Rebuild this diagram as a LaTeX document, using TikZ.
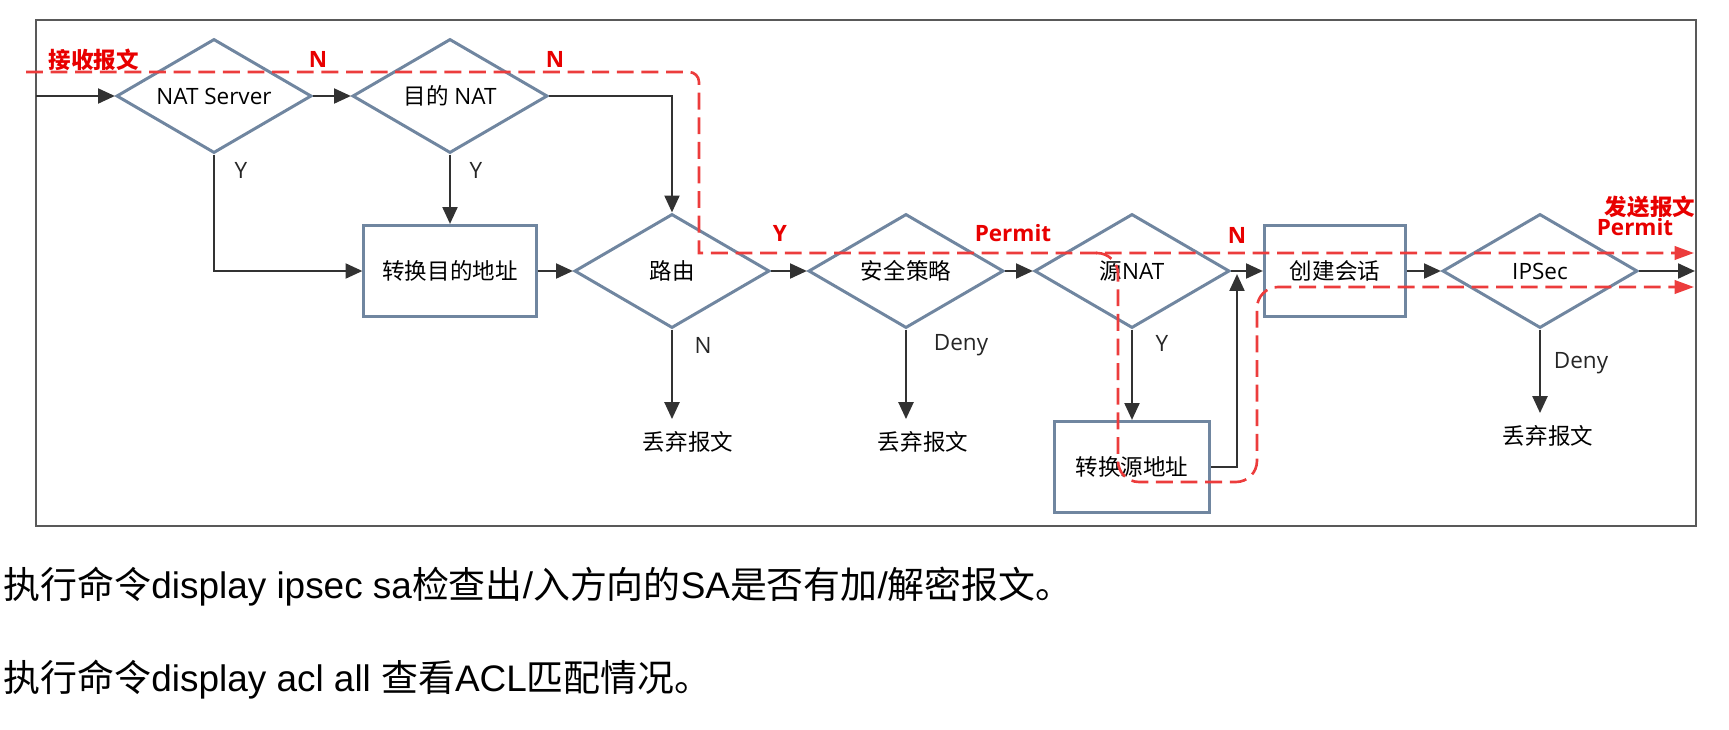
\documentclass[tikz,border=0pt]{standalone}
\usepackage{fontspec}
\setmainfont{Liberation Sans}
\newfontfamily\cjk{Noto Sans CJK SC}
\newfontfamily\uisans{Open Sans}
\usepackage{xcolor}
\usepackage{tikz}
\usetikzlibrary{arrows.meta,positioning,shapes.geometric,calc}

\definecolor{shapeline}{RGB}{112,134,160}
\definecolor{dashred}{RGB}{236,60,60}
\definecolor{tagred}{RGB}{232,0,0}
\definecolor{flowline}{RGB}{50,50,50}

\begin{document}
\begin{tikzpicture}[
        x=0.01cm, y=-0.01cm,
        font=\uisans\fontsize{6.4}{7.5}\selectfont,
        % 判断框与处理框
        decision/.style={draw=shapeline, line width=0.85pt, diamond, aspect=1.7, minimum width=1.95cm, minimum height=1.14cm, inner sep=0.5pt},
        process/.style={draw=shapeline, line width=0.85pt, rectangle, minimum height=0.91cm, inner sep=1pt},
        % 连线
        flow/.style={-{Triangle[length=4.8pt,width=4.2pt]}, draw=flowline, line width=0.75pt},
        redflow/.style={-{Triangle[length=5.5pt,width=3.8pt]}, draw=dashred, line width=0.75pt, dash pattern=on 4.8pt off 2.2pt},
        % 标签
        tag/.style={text=black!85, inner sep=1pt},
        redtag/.style={text=tagred, inner sep=1pt, font=\uisans\bfseries\fontsize{6.4}{7.5}\selectfont},
        remark/.style={anchor=west, inner sep=0pt, font=\rmfamily\fontsize{10.5}{12}\selectfont}
    ]

    \useasboundingbox (0,0) rectangle (1729,730);
    \draw[draw=black!65, line width=0.8pt] (36,20) rectangle (1696,526);

    % 流程节点
    \node[decision] (natsrv) at (214,96) {NAT Server};
    \node[decision] (dnat) at (450,96) {{\cjk 目的} NAT};
    \node[process, minimum width=1.72cm] (dstaddr) at (450,271) {\cjk 转换目的地址};
    \node[decision] (route) at (672,271) {\cjk 路由};
    \node[decision] (secpol) at (906,271) {\cjk 安全策略};
    \node[decision] (snat) at (1132,271) {{\cjk 源}NAT};
    \node[process, minimum width=1.55cm] (srcaddr) at (1132,467) {\cjk 转换源地址};
    \node[process, minimum width=1.41cm] (session) at (1335,271) {\cjk 创建会话};
    \node[decision] (ipsec) at (1540,271) {IPSec};

    \node (drop1) at (688,442) {\cjk 丢弃报文};
    \node (drop2) at (923,442) {\cjk 丢弃报文};
    \node (drop3) at (1548,436) {\cjk 丢弃报文};

    \coordinate (entry) at (36,96);
    \coordinate (exit) at (1695,271);
    \coordinate (merge) at (1237,274);

    % 黑色连线
    \draw[flow] (entry) -- (natsrv.west);
    \draw[flow] (natsrv.east) -- (dnat.west);
    \draw[flow] (dnat.east) -| (route.north);
    \draw[flow] (natsrv.south) |- (dstaddr.west);
    \draw[flow] (dnat.south) -- (dstaddr.north);
    \draw[flow] (dstaddr.east) -- (route.west);
    \draw[flow] (route.east) -- (secpol.west);
    \draw[flow] (secpol.east) -- (snat.west);
    \draw[flow] (snat.east) -- (session.west);
    \draw[flow] (snat.south) -- (srcaddr.north);
    \draw[flow] (srcaddr.east) -| (merge);
    \draw[flow] (session.east) -- (ipsec.west);
    \draw[flow] (ipsec.east) -- (exit);
    \draw[flow] (route.south) -- (route.south |- drop1.north);
    \draw[flow] (secpol.south) -- (secpol.south |- drop2.north);
    \draw[flow] (ipsec.south) -- (ipsec.south |- drop3.north);

    % 分支标签
    \node[tag] (y1) at (241,170) {Y};
    \node[tag] (y2) at (476,170) {Y};
    \node[tag] (n1) at (703,345) {N};
    \node[tag] (deny1) at (961,345) {Deny};
    \node[tag] (y3) at (1162,343) {Y};
    \node[tag] (deny2) at (1581,363) {Deny};

    % 报文转发路径（红色虚线）
    \coordinate (rxin) at (26,72);
    \coordinate (rxbend) at (689,72);
    \coordinate (rxdrop) at (699,82);
    \coordinate (rxturn) at (699,253);
    \coordinate (txout1) at (1694,253);
    \coordinate (natfork) at (1096,253);
    \coordinate (txout2) at (1694,287);
    \draw[redflow] (rxin) -- (rxbend) to[out=0,in=90] (rxdrop) -- (rxturn) -- (txout1);
    \draw[redflow, rounded corners=6pt] (natfork) -- (1118,253) -- (1118,482) -- (1257,482) -- (1257,287) -- (txout2);

    \node[redtag] (rxlabel) at (94,60) {\cjk 接收报文};
    \node[redtag] (rn1) at (318,59) {N};
    \node[redtag] (rn2) at (555,59) {N};
    \node[redtag] (ry1) at (780,233) {Y};
    \node[redtag] (rpermit1) at (1013,233) {Permit};
    \node[redtag] (rn3) at (1237,235) {N};
    \node[redtag] (txlabel) at (1650,207) {\cjk 发送报文};
    \node[redtag] (rpermit2) at (1635,227) {Permit};

    % 说明文字
    \node[remark] (cmd1) at (3,587) {{\cjk 执行命令}display ipsec sa{\cjk 检查出}/{\cjk 入方向的}SA{\cjk 是否有加}/{\cjk 解密报文。}};
    \node[remark] (cmd2) at (3,680) {{\cjk 执行命令}display acl all {\cjk 查看}ACL{\cjk 匹配情况。}};

\end{tikzpicture}
\end{document}
